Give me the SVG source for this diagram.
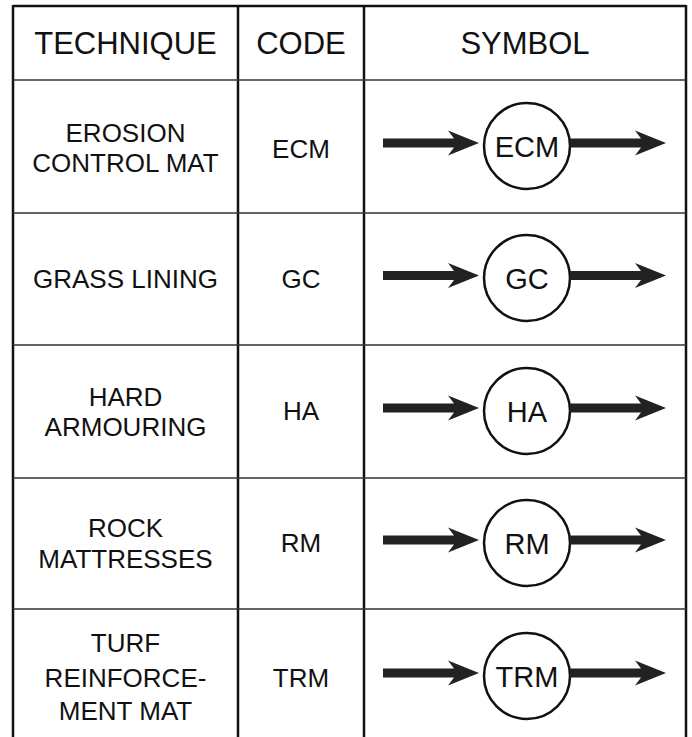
<svg xmlns="http://www.w3.org/2000/svg" xmlns:xlink="http://www.w3.org/1999/xlink" width="692" height="737" viewBox="0 0 692 737">
<style>
.t{font-family:"Liberation Sans",Arial,sans-serif;font-size:26px;fill:#111;text-anchor:middle}
.h{font-size:31px}
.s{font-size:29px}
.v{stroke:#111;stroke-width:2.5;fill:none}
.hl{stroke:#333;stroke-width:1.6;fill:none}
.c{fill:#fff;stroke:#111;stroke-width:2.5}
.a{fill:#222}
</style>
<defs>
<path id="la" d="M383,-4.5 L454,-4.5 L448,-12.5 L479,0 L448,12.5 L454,4.5 L383,4.5 Z"/>
<path id="ra" d="M570,-4.5 L641,-4.5 L635,-12.5 L666,0 L635,12.5 L641,4.5 L570,4.5 Z"/>
</defs>
<rect width="692" height="737" fill="#fff"/>
<g id="grid">
<line class="v" x1="13" y1="6" x2="686" y2="6"/>
<line class="v" x1="13" y1="5" x2="13" y2="737"/>
<line class="v" x1="238" y1="5" x2="238" y2="737"/>
<line class="v" x1="364" y1="5" x2="364" y2="737"/>
<line class="v" x1="686" y1="5" x2="686" y2="737"/>
<line class="hl" x1="13" y1="80" x2="686" y2="80"/>
<line class="hl" x1="13" y1="213" x2="686" y2="213"/>
<line class="hl" x1="13" y1="345" x2="686" y2="345"/>
<line class="hl" x1="13" y1="478" x2="686" y2="478"/>
<line class="hl" x1="13" y1="609" x2="686" y2="609"/>
</g>
<g id="header">
<text class="t h" x="125.5" y="54">TECHNIQUE</text>
<text class="t h" x="301" y="54">CODE</text>
<text class="t h" x="525" y="54">SYMBOL</text>
</g>
<g id="row-ecm">
<text class="t" x="125.5" y="142">EROSION</text>
<text class="t" x="125.5" y="172">CONTROL MAT</text>
<text class="t" x="301" y="158">ECM</text>
<circle class="c" cx="527" cy="146" r="43"/>
<text class="t s" x="527" y="157">ECM</text>
</g>
<g id="row-gc">
<text class="t" x="125.5" y="288">GRASS LINING</text>
<text class="t" x="301" y="288">GC</text>
<circle class="c" cx="527" cy="278" r="43"/>
<text class="t s" x="527" y="289">GC</text>
</g>
<g id="row-ha">
<text class="t" x="125.5" y="406">HARD</text>
<text class="t" x="125.5" y="436">ARMOURING</text>
<text class="t" x="301" y="420">HA</text>
<circle class="c" cx="527" cy="411" r="43"/>
<text class="t s" x="527" y="422">HA</text>
</g>
<g id="row-rm">
<text class="t" x="125.5" y="537">ROCK</text>
<text class="t" x="125.5" y="568">MATTRESSES</text>
<text class="t" x="301" y="552">RM</text>
<circle class="c" cx="527" cy="543" r="43"/>
<text class="t s" x="527" y="554">RM</text>
</g>
<g id="row-trm">
<text class="t" x="125.5" y="652">TURF</text>
<text class="t" x="125.5" y="687">REINFORCE-</text>
<text class="t" x="125.5" y="720">MENT MAT</text>
<text class="t" x="301" y="687">TRM</text>
<circle class="c" cx="527" cy="676" r="43"/>
<text class="t s" x="527" y="687">TRM</text>
</g>
<g id="connectors" class="a">
<use xlink:href="#la" href="#la" transform="translate(0,143)"/>
<use xlink:href="#ra" href="#ra" transform="translate(0,143)"/>
<use xlink:href="#la" href="#la" transform="translate(0,275.5)"/>
<use xlink:href="#ra" href="#ra" transform="translate(0,275.5)"/>
<use xlink:href="#la" href="#la" transform="translate(0,408)"/>
<use xlink:href="#ra" href="#ra" transform="translate(0,408)"/>
<use xlink:href="#la" href="#la" transform="translate(0,540)"/>
<use xlink:href="#ra" href="#ra" transform="translate(0,540)"/>
<use xlink:href="#la" href="#la" transform="translate(0,673)"/>
<use xlink:href="#ra" href="#ra" transform="translate(0,673)"/>
</g>
</svg>
